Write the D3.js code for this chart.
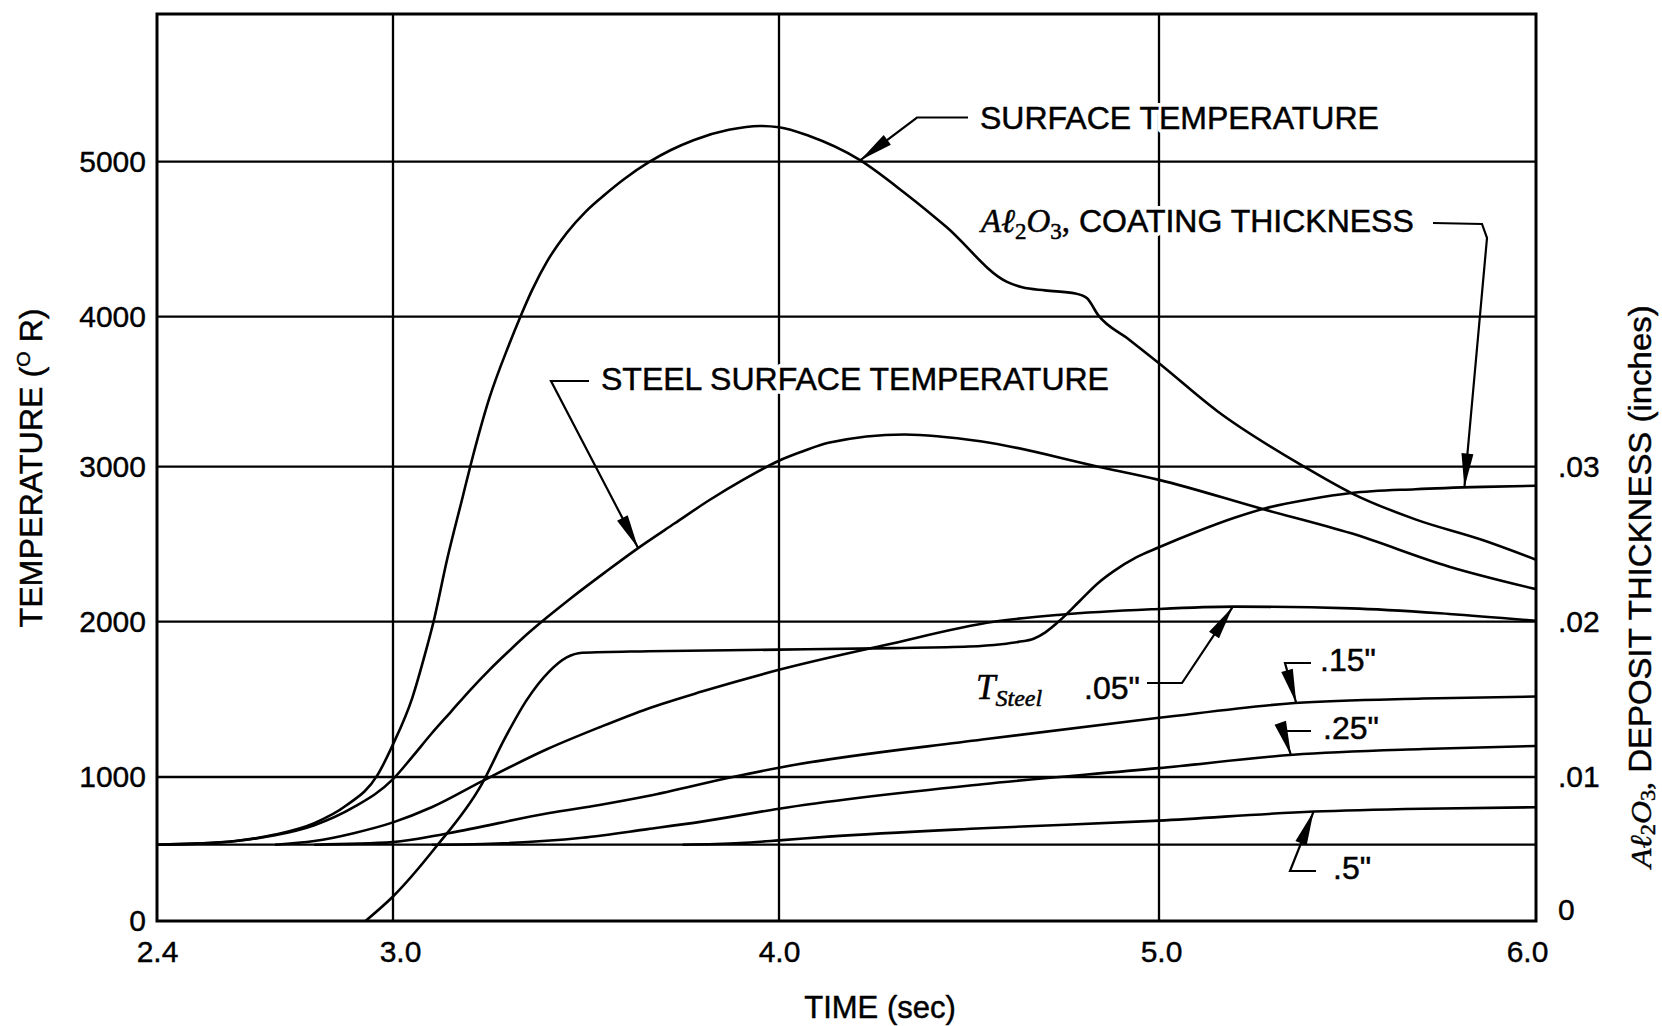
<!DOCTYPE html>
<html><head><meta charset="utf-8">
<script src="https://cdn.jsdelivr.net/npm/d3@7"></script>
<style>
html,body{margin:0;padding:0;background:#fff;}
svg{display:block;}
text{font-family:"Liberation Sans",Arial,Helvetica,sans-serif;fill:#000;}
</style></head><body>
<svg id="chart" width="1662" height="1026"></svg>
<script>
// ---------------- DATA ----------------
const timeTicks = [2.4, 3.0, 4.0, 5.0, 6.0];           // TIME (sec)
const tempTicks = [0, 1000, 2000, 3000, 4000, 5000];    // TEMPERATURE (°R)
const thicknessTicks = [0, 0.01, 0.02, 0.03];           // Al2O3 deposit thickness (in)
const initialTemp = 530;                                // initial temperature line (°R)

// [time (sec), temperature (°R)]
const surfaceTemp = [[2.4,530],[2.5,537],[2.6,556],[2.7,600],[2.8,680],[2.88,800],[2.96,1010],[3.0,1210],
  [3.05,1510],[3.085,1810],[3.105,2000],[3.14,2400],[3.18,2800],[3.2,3000],[3.25,3460],[3.3,3810],
  [3.33,4000],[3.36,4170],[3.4,4360],[3.45,4540],[3.5,4680],[3.55,4790],[3.6,4890],[3.665,5000],
  [3.72,5075],[3.78,5140],[3.87,5205],[3.95,5230],[4.0,5222],[4.08,5165],[4.21,5015],[4.33,4800],
  [4.44,4580],[4.6,4225],[4.64,4190],[4.7,4170],[4.78,4150],[4.81,4120],[4.84,4010],[4.92,3850],
  [5.0,3690],[5.155,3370],[5.385,3000],[5.51,2830],[5.68,2660],[5.86,2525],[6.0,2400]];
const steelSurfaceTemp = [[2.4,530],[2.5,537],[2.6,555],[2.7,595],[2.8,665],[2.9,790],[3.0,985],[3.05,1130],
  [3.1,1280],[3.15,1420],[3.2,1560],[3.25,1690],[3.3,1810],[3.35,1925],[3.4,2030],[3.46,2150],[3.55,2320],
  [3.635,2475],[3.73,2635],[3.82,2785],[3.91,2920],[4.0,3040],[4.06,3100],[4.13,3160],[4.33,3215],
  [4.53,3170],[4.84,3000],[5.0,2915],[5.27,2730],[5.51,2570],[5.77,2355],[6.0,2210]];
// [time (sec), thickness (inches)] – right axis
const coatingThickness = [[2.93,0],[3.0,0.0017],[3.11,0.0051],[3.23,0.0095],[3.29,0.0125],[3.345,0.0149],
  [3.405,0.0168],[3.45,0.0177],[3.49,0.0180],[3.66,0.0181],[4.0,0.0182],[4.3,0.0183],[4.5,0.0184],
  [4.585,0.01855],[4.63,0.0187],[4.67,0.0189],[4.7,0.0193],[4.74,0.0201],[4.79,0.0213],[4.84,0.0225],
  [4.88,0.02325],[4.94,0.02415],[5.0,0.0248],[5.1,0.0258],[5.2,0.0267],[5.28,0.0273],[5.4,0.0279],
  [5.51,0.0283],[5.68,0.02855],[5.86,0.0287],[6.0,0.02877]];
// steel temperature at depth – [time (sec), temperature (°R)]
const tSteel05 = [[2.7,530],[2.8,555],[2.9,610],[3.0,685],[3.1,790],[3.23,970],[3.4,1180],[3.535,1320],
  [3.66,1440],[3.8,1550],[4.0,1690],[4.28,1850],[4.565,2000],[4.74,2045],[4.98,2080],[5.2,2097],
  [5.51,2086],[5.77,2050],[6.0,2006]];
const tSteel15 = [[2.8,530],[3.0,548],[3.144,610],[3.405,750],[3.535,806],[3.66,868],[3.88,1000],[4.0,1060],
  [4.535,1241],[5.0,1381],[5.36,1476],[5.7,1505],[6.0,1518]];
const tSteel25 = [[3.1,530],[3.233,535],[3.49,578],[3.66,638],[3.8,690],[4.0,780],[4.535,950],[5.0,1057],
  [5.356,1143],[5.7,1180],[6.0,1200]];
const tSteel50 = [[3.75,530],[3.9,542],[4.0,560],[4.13,586],[4.535,644],[5.0,697],[5.41,760],[5.7,780],[6.0,790]];

// ---------------- LAYOUT ----------------
const svg = d3.select("#chart");
const L = 157, R = 1536, T = 14, B = 921;
// the scanned original's grid is slightly uneven, so map each gridline to where it sits
const x = d3.scaleLinear().domain(timeTicks).range([L, 393, 779, 1159, R]);
const y = d3.scaleLinear().domain([0,1000,2000,3000,4000,5000,5950]).range([B,777,621.7,466.7,316.7,161.7,T]);
const yR = d3.scaleLinear().domain(y.domain().map(v => v / 1e5)).range(y.range());

const serif = '"Liberation Serif","Times New Roman",serif';

// gridlines
const grid = svg.append("g").attr("stroke", "#000").attr("stroke-width", 2.3);
grid.selectAll("line.v").data(timeTicks.slice(1, -1)).join("line")
  .attr("x1", d => x(d)).attr("x2", d => x(d)).attr("y1", T).attr("y2", B);
grid.selectAll("line.h").data(tempTicks.slice(1)).join("line")
  .attr("x1", L).attr("x2", R).attr("y1", d => y(d)).attr("y2", d => y(d));
grid.append("line").attr("x1", x(timeTicks[0])).attr("x2", x(timeTicks[4]))
  .attr("y1", y(initialTemp)).attr("y2", y(initialTemp));

// curves
const lineT = d3.line().x(d => x(d[0])).y(d => y(d[1])).curve(d3.curveMonotoneX);
const lineR = d3.line().x(d => x(d[0])).y(d => yR(d[1])).curve(d3.curveMonotoneX);
const curves = svg.append("g").attr("fill", "none").attr("stroke", "#000").attr("stroke-width", 2.6)
  .attr("stroke-linejoin", "round");
[surfaceTemp, steelSurfaceTemp, tSteel05, tSteel15, tSteel25, tSteel50].forEach(s =>
  curves.append("path").attr("d", lineT(s)));
curves.append("path").attr("d", lineR(coatingThickness));

// helpers
function valueAt(series, t) {
  const i = d3.bisector(d => d[0]).left(series, t);
  if (i <= 0) return series[0][1];
  if (i >= series.length) return series[series.length - 1][1];
  const a = series[i - 1], b = series[i];
  return a[1] + (b[1] - a[1]) * (t - a[0]) / (b[0] - a[0]);
}
function arrowHead(tip, from, len, hw) {
  const dx = tip[0] - from[0], dy = tip[1] - from[1], l = Math.hypot(dx, dy);
  const ux = dx / l, uy = dy / l, bx = tip[0] - ux * len, by = tip[1] - uy * len;
  return `M${tip[0]},${tip[1]}L${bx - uy * hw},${by + ux * hw}L${bx + uy * hw},${by - ux * hw}Z`;
}
function richText(g, px, py, parts, size, subShift) {
  const t = g.append("text").attr("x", px).attr("y", py).style("font-size", size + "px");
  let cur = 0;
  parts.forEach(p => {
    const ts = t.append("tspan").text(p.text);
    const shift = p.sub ? (subShift || 7) : p.sup ? -12 : 0;
    ts.attr("dy", shift - cur); cur = shift;
    if (p.serif) ts.style("font-family", serif);
    if (p.italic) ts.style("font-style", "italic");
    if (p.size) ts.style("font-size", p.size + "px");
  });
  return t;
}

// annotations: leader from label, ending with an arrow on the curve at time `at`
const annotations = [
  {series: surfaceTemp, scale: y, at: 4.2135, pts: [[968,117.5],[917,117.5]]},
  {series: coatingThickness, scale: yR, at: 5.81, pts: [[1433,223],[1482,224],[1487,238]]},
  {series: steelSurfaceTemp, scale: y, at: 3.635, pts: [[589,381],[551,381]]},
  {series: tSteel05, scale: y, at: 5.196, pts: [[1147,683],[1182,683]]},
  {series: tSteel15, scale: y, at: 5.364, pts: [[1311,663],[1285,663]]},
  {series: tSteel25, scale: y, at: 5.35, pts: [[1311,731],[1283,731]]},
  {series: tSteel50, scale: y, at: 5.41, pts: [[1316,871],[1290,871]]}
];
const ann = svg.append("g");
annotations.forEach(a => {
  const tip = [x(a.at), a.scale(valueAt(a.series, a.at))];
  const pts = a.pts.concat([tip]);
  ann.append("path").attr("d", d3.line()(pts)).attr("fill", "none").attr("stroke", "#000").attr("stroke-width", 2.2);
  ann.append("path").attr("d", arrowHead(tip, pts[pts.length - 2], 34, 6)).attr("fill", "#000");
});

// labels: white halo underneath, then slightly heavy black text
const mathAl2O3 = [
  {text: "A", serif: true, italic: true, size: 33}, {text: "ℓ", serif: true, italic: true, size: 33},
  {text: "2", serif: true, sub: true, size: 23}, {text: "O", serif: true, italic: true, size: 33},
  {text: "3", serif: true, sub: true, size: 23}, {text: ",", serif: true, size: 33}];
const labelDefs = [
  [980, 128.5, [{text: "SURFACE TEMPERATURE"}]],
  [981, 232, mathAl2O3.concat([{text: " COATING THICKNESS"}])],
  [601, 390, [{text: "STEEL SURFACE TEMPERATURE"}]],
  [976, 699, [{text: "T", serif: true, italic: true, size: 35}, {text: "Steel", serif: true, italic: true, sub: true, size: 24}]],
  [1084, 699, [{text: '.05"'}]],
  [1320, 671, [{text: '.15"'}]],
  [1323, 739, [{text: '.25"'}]],
  [1333, 879, [{text: '.5"'}]]
];
const halo = svg.append("g").attr("stroke", "#fff").attr("stroke-width", 8).attr("stroke-linejoin", "round");
const labels = svg.append("g").attr("stroke", "#000").attr("stroke-width", 0.5);
labelDefs.forEach(d => {
  richText(halo, d[0], d[1], d[2], 32).style("fill", "#fff");
  richText(labels, d[0], d[1], d[2], 32);
});

// frame
svg.append("rect").attr("x", L).attr("y", T).attr("width", R - L).attr("height", B - T)
  .attr("fill", "none").attr("stroke", "#000").attr("stroke-width", 3);

// axes (labels only, as in the original)
function styleAxis(g) {
  g.select(".domain").remove();
  g.attr("font-family", null).attr("font-size", null);
  g.selectAll("text").style("font-size", "30px").attr("stroke", "#000").attr("stroke-width", 0.4);
}
svg.append("g").attr("transform", `translate(${L},0)`)
  .call(d3.axisLeft(y).tickValues(tempTicks).tickSize(0).tickPadding(11).tickFormat(d3.format("d")))
  .call(styleAxis);
const xLabelNudge = {3: 7, 5: 2, 6: -9};   // where the original's labels sit off their gridlines
svg.append("g").attr("transform", `translate(0,${B})`)
  .call(d3.axisBottom(x).tickValues(timeTicks).tickSize(0).tickPadding(20).tickFormat(d3.format(".1f")))
  .call(styleAxis)
  .selectAll(".tick text").attr("x", d => xLabelNudge[d] || 0);
const rAxis = svg.append("g").attr("transform", `translate(${R},0)`)
  .call(d3.axisRight(yR).tickValues(thicknessTicks).tickSize(0).tickPadding(22)
    .tickFormat(d => d === 0 ? "0" : d3.format(".2f")(d).replace(/^0/, "")))
  .call(styleAxis);
rAxis.selectAll(".tick").filter(d => d === 0).select("text").attr("y", -11);

// axis titles
const titles = svg.append("g").attr("stroke", "#000").attr("stroke-width", 0.45);
richText(titles, 880, 1018, [{text: "TIME (sec)"}], 31).attr("text-anchor", "middle");
richText(titles, 0, 0, [{text: "TEMPERATURE ("}, {text: "O", sup: true, size: 19}, {text: " R)"}], 31)
  .attr("text-anchor", "middle").attr("x", null).attr("y", null)
  .attr("transform", "translate(42,468) rotate(-90) scale(1.04,1)");
richText(titles, 0, 0, mathAl2O3.map(p => Object.assign({}, p, {size: p.sub ? 21 : 30}))
  .concat([{text: " DEPOSIT THICKNESS (inches)"}]), 31, 4)
  .attr("text-anchor", "start").attr("x", null).attr("y", null)
  .attr("transform", "translate(1651,868) rotate(-90) scale(1.063,1)");
</script>
</body></html>
